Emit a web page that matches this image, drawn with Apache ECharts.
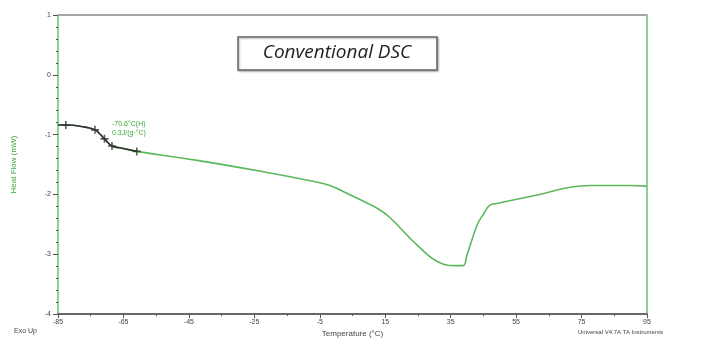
<!DOCTYPE html>
<html>
<head>
<meta charset="utf-8">
<script src="https://cdn.jsdelivr.net/npm/echarts@6/dist/echarts.min.js"></script>
<style>
  html, body { margin: 0; padding: 0; background: #fff; }
  #chart { width: 709px; height: 343px; }
</style>
</head>
<body>
<div id="chart"></div>
<script>
// temperature (°C) and heat flow (mW)
var temps = [-85, -82.6, -77.1, -73.7, -72.2, -70.3, -68.5, -66.1, -60.9,
  -42.5, -22.3, -7.1, -1.9, 3.3, 8.2, 13.4, 16.5, 25.6, 31.7, 36.9, 38.8,
  40.0, 43.1, 44.9, 47.0, 49.2, 61.4, 71.5, 77.6, 89.8, 95]
var heatFlow = [-0.84, -0.84, -0.87, -0.92, -0.99, -1.10, -1.19, -1.22, -1.28,
  -1.43, -1.62, -1.78, -1.85, -1.98, -2.11, -2.26, -2.39, -2.89, -3.14, -3.19, -3.19,
  -3.01, -2.51, -2.34, -2.18, -2.15, -2.01, -1.88, -1.85, -1.85, -1.86]
// glass transition analysis marks
var tgTemps = [-82.6, -73.7, -70.8, -68.5, -60.9]
var tgFlow = [-0.84, -0.92, -1.07, -1.19, -1.28]
var tgEnd = -60.9
var xTicks = [-85, -65, -45, -25, -5, 15, 35, 55, 75, 95]
var xMinor = [-75, -55, -35, -15, 5, 25, 45, 65, 85]

var chart = echarts.init(document.getElementById('chart'))

var curve = temps.map(function(t, i) { return [t, heatFlow[i]] })
var tgPart = curve.filter(function(p) { return p[0] <= tgEnd })
var marks = tgTemps.map(function(t, i) { return [t, tgFlow[i]] })

var green = '#5cb85c'
var tickFont = { fontSize: 7, color: '#444', fontFamily: 'Liberation Sans' }

chart.setOption({
  animation: false,
  grid: {
    left: 58,
    right: 62,
    top: 15,
    bottom: 26,
    show: true,
    borderColor: '#888',
    borderWidth: 1.5
  },
  xAxis: [{
    type: 'value',
    min: -85,
    max: 95,
    splitLine: { show: false },
    axisLine: { onZero: false, lineStyle: { color: '#555', width: 1.5 } },
    axisTick: { customValues: xTicks, length: 4, lineStyle: { color: '#555' } },
    axisLabel: Object.assign({ customValues: xTicks, margin: 4 }, tickFont),
    name: 'Temperature (°C)',
    nameLocation: 'middle',
    nameGap: 15,
    nameTextStyle: { fontSize: 8, color: '#444', fontFamily: 'Liberation Sans' }
  }, {
    type: 'value',
    min: -85,
    max: 95,
    position: 'bottom',
    splitLine: { show: false },
    axisLine: { show: false, onZero: false },
    axisTick: { customValues: xMinor, length: 2, lineStyle: { color: '#555' } },
    axisLabel: { show: false }
  }],
  yAxis: [{
    type: 'value',
    min: -4,
    max: 1,
    interval: 1,
    splitLine: { show: false },
    axisLine: { onZero: false, lineStyle: { color: '#8fd18f', width: 2 } },
    axisTick: { length: 5, lineStyle: { color: '#555' } },
    minorTick: { show: true, splitNumber: 5, length: 2, lineStyle: { color: '#555' } },
    axisLabel: Object.assign({ margin: 7 }, tickFont),
    name: 'Heat Flow (mW)',
    nameLocation: 'middle',
    nameGap: 40,
    nameTextStyle: { fontSize: 8, color: '#3aa53a', fontFamily: 'Liberation Sans' }
  }, {
    type: 'value',
    min: -4,
    max: 1,
    position: 'right',
    splitLine: { show: false },
    axisLine: { show: true, onZero: false, lineStyle: { color: '#8fd18f', width: 2 } },
    axisTick: { show: false },
    axisLabel: { show: false }
  }],
  series: [{
    type: 'line',
    data: curve,
    smooth: 0.45,
    showSymbol: false,
    lineStyle: { color: green, width: 1.6 },
    z: 2
  }, {
    type: 'line',
    data: tgPart,
    smooth: 0.45,
    showSymbol: false,
    lineStyle: { color: '#333', width: 1.6 },
    z: 3
  }, {
    type: 'scatter',
    data: marks,
    symbol: 'path://M4,0 L6,0 L6,4 L10,4 L10,6 L6,6 L6,10 L4,10 L4,6 L0,6 L0,4 L4,4 Z',
    symbolSize: 8,
    itemStyle: { color: '#333' },
    z: 4
  }],
  graphic: [{
    type: 'text',
    left: 112,
    top: 120,
    style: {
      text: '-70.6°C(H)\n0.3J/(g·°C)',
      fill: '#3aa53a',
      font: '7px Liberation Sans',
      lineHeight: 9
    }
  }, {
    type: 'rect',
    shape: { x: 238, y: 37, width: 199, height: 33 },
    style: { fill: '#fff', stroke: '#666', lineWidth: 1.5, shadowBlur: 2, shadowColor: 'rgba(0,0,0,0.3)', shadowOffsetX: 1, shadowOffsetY: 1 }
  }, {
    type: 'text',
    x: 337,
    y: 53,
    style: {
      text: 'Conventional DSC',
      fill: '#222',
      font: 'italic 19px Open Sans',
      align: 'center',
      verticalAlign: 'middle'
    }
  }, {
    type: 'text',
    left: 14,
    top: 328,
    style: { text: 'Exo Up', fill: '#444', font: '7px Liberation Sans' }
  }, {
    type: 'text',
    left: 578,
    top: 329,
    style: { text: 'Universal V4.7A TA Instruments', fill: '#444', font: '6px Liberation Sans' }
  }]
})
</script>
</body>
</html>
